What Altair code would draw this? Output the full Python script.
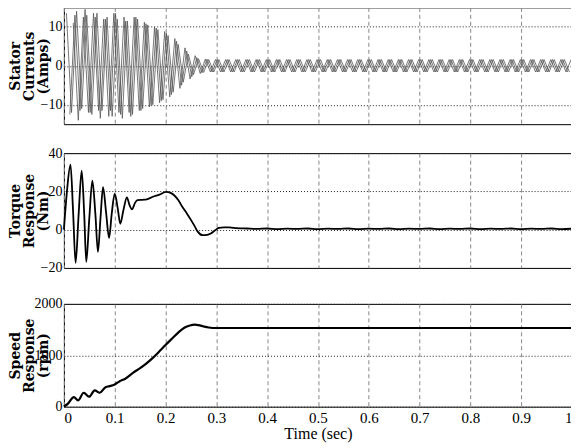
import altair as alt
import pandas as pd

# ---------------- data ----------------
time_ticks = [0, 0.1, 0.2, 0.3, 0.4, 0.5, 0.6, 0.7, 0.8, 0.9, 1]

# stator current extremes (one value per half cycle, 50 Hz), three phases
cur_t_a = [round(0.005 + 0.01 * k, 5) for k in range(100)]
cur_t_b = [round(t + 0.00667, 5) for t in cur_t_a]
cur_t_c = [round(t + 0.01333, 5) for t in cur_t_a]

cur_a = [13.5, -12.0, 14.0, -11.0, 13.0, -12.5, 13.5, -11.5, 12.5, -13.0,
         12.0, -13.5, 11.5, -12.5, 12.0, -11.0, 10.5, -10.0, 9.3, -8.7,
         7.8, -6.8, 5.5, -4.2, 3.0, -2.3, 1.8, -1.7, 1.6, -1.6,
         1.6, -1.6, 1.6, -1.6, 1.6, -1.6, 1.6, -1.6, 1.6, -1.6,
         1.6, -1.6, 1.6, -1.6, 1.6, -1.6, 1.6, -1.6, 1.6, -1.6,
         1.6, -1.6, 1.6, -1.6, 1.6, -1.6, 1.6, -1.6, 1.6, -1.6,
         1.6, -1.6, 1.6, -1.6, 1.6, -1.6, 1.6, -1.6, 1.6, -1.6,
         1.6, -1.6, 1.6, -1.6, 1.6, -1.6, 1.6, -1.6, 1.6, -1.6,
         1.6, -1.6, 1.6, -1.6, 1.6, -1.6, 1.6, -1.6, 1.6, -1.6,
         1.6, -1.6, 1.6, -1.6, 1.6, -1.6, 1.6, -1.6, 1.6, -1.6]
cur_b = [-12.5, 13.0, -11.5, 14.5, -12.0, 12.5, -13.5, 12.0, -11.5, 13.5,
         -12.5, 11.5, -13.0, 12.5, -11.5, 10.8, -10.2, 9.7, -9.0, 8.4,
         -7.4, 6.3, -5.0, 3.8, -2.8, 2.1, -1.8, 1.7, -1.6, 1.6,
         -1.6, 1.6, -1.6, 1.6, -1.6, 1.6, -1.6, 1.6, -1.6, 1.6,
         -1.6, 1.6, -1.6, 1.6, -1.6, 1.6, -1.6, 1.6, -1.6, 1.6,
         -1.6, 1.6, -1.6, 1.6, -1.6, 1.6, -1.6, 1.6, -1.6, 1.6,
         -1.6, 1.6, -1.6, 1.6, -1.6, 1.6, -1.6, 1.6, -1.6, 1.6,
         -1.6, 1.6, -1.6, 1.6, -1.6, 1.6, -1.6, 1.6, -1.6, 1.6,
         -1.6, 1.6, -1.6, 1.6, -1.6, 1.6, -1.6, 1.6, -1.6, 1.6,
         -1.6, 1.6, -1.6, 1.6, -1.6, 1.6, -1.6, 1.6, -1.6, 1.6]
cur_c = [11.0, -14.0, 12.5, -12.0, 13.5, -11.5, 12.0, -13.0, 13.5, -12.0,
         12.5, -12.0, 12.5, -11.5, 11.2, -10.6, 10.0, -9.5, 8.8, -8.0,
         7.0, -5.8, 4.6, -3.4, 2.6, -2.0, 1.7, -1.6, 1.6, -1.6,
         1.6, -1.6, 1.6, -1.6, 1.6, -1.6, 1.6, -1.6, 1.6, -1.6,
         1.6, -1.6, 1.6, -1.6, 1.6, -1.6, 1.6, -1.6, 1.6, -1.6,
         1.6, -1.6, 1.6, -1.6, 1.6, -1.6, 1.6, -1.6, 1.6, -1.6,
         1.6, -1.6, 1.6, -1.6, 1.6, -1.6, 1.6, -1.6, 1.6, -1.6,
         1.6, -1.6, 1.6, -1.6, 1.6, -1.6, 1.6, -1.6, 1.6, -1.6,
         1.6, -1.6, 1.6, -1.6, 1.6, -1.6, 1.6, -1.6, 1.6, -1.6,
         1.6, -1.6, 1.6, -1.6, 1.6, -1.6, 1.6, -1.6, 1.6, -1.6]

# electromagnetic torque (Nm)
torque_t = [0, 0.006, 0.013, 0.018, 0.023, 0.029, 0.035, 0.040, 0.044, 0.050,
            0.056, 0.062, 0.067, 0.072, 0.077, 0.083, 0.089, 0.094, 0.100, 0.106,
            0.111, 0.117, 0.124, 0.129, 0.134, 0.140, 0.145, 0.155, 0.163, 0.175,
            0.188, 0.201, 0.210, 0.217, 0.225, 0.233, 0.242, 0.250, 0.257, 0.263,
            0.273, 0.282, 0.289, 0.297, 0.305, 0.315, 0.325, 0.340, 0.360, 0.380,
            0.400, 0.420, 0.440, 0.460, 0.480, 0.500, 0.520, 0.540, 0.560, 0.580,
            0.600, 0.620, 0.640, 0.660, 0.680, 0.700, 0.720, 0.740, 0.760, 0.780,
            0.800, 0.820, 0.840, 0.860, 0.880, 0.900, 0.920, 0.940, 0.960, 0.980,
            1.000]
torque_v = [0, 20, 34, 10, -17.4, 8, 30.8, 8, -16.8, 6,
            25.6, 8, -11.6, 6, 22.2, 9, -4.3, 8, 18.8, 11,
            3.1, 10, 16.8, 13, 10.6, 14, 15.4, 15.6, 15.8, 17.2,
            18.3, 19.7, 19.2, 18.0, 15.5, 12.0, 8.5, 5.1, 2.0, -0.9,
            -2.9, -2.7, -2.0, -0.5, 0.9, 1.2, 1.2, 0.8, 0.6, 0.4,
            0.6, 0.3, 0.5, 0.4, 0.6, 0.3, 0.5, 0.4, 0.6, 0.3,
            0.5, 0.4, 0.6, 0.3, 0.5, 0.4, 0.6, 0.3, 0.5, 0.4,
            0.6, 0.3, 0.5, 0.4, 0.6, 0.3, 0.5, 0.4, 0.6, 0.3,
            0.5]

# rotor speed (rpm)
speed_t = [0, 0.008, 0.0196, 0.028, 0.039, 0.0496, 0.0607, 0.0705, 0.082, 0.090,
           0.100, 0.110, 0.120, 0.136, 0.150, 0.162, 0.175, 0.188, 0.200, 0.214,
           0.225, 0.237, 0.248, 0.258, 0.265, 0.275, 0.285, 0.300, 0.350, 0.500,
           0.750, 1.000]
speed_v = [0, 60, 186, 122, 271, 194, 316, 271, 380, 399,
           432, 496, 540, 658, 750, 838, 950, 1077, 1200, 1335,
           1440, 1535, 1580, 1595, 1585, 1560, 1540, 1530, 1530, 1530,
           1530, 1530]

# ---------------- tables ----------------
cur_df = pd.concat([
    pd.DataFrame({"t": cur_t_a, "v": cur_a, "ph": "a"}),
    pd.DataFrame({"t": cur_t_b, "v": cur_b, "ph": "b"}),
    pd.DataFrame({"t": cur_t_c, "v": cur_c, "ph": "c"}),
])
cur_df = cur_df[cur_df["t"] <= 1.0]
torque_df = pd.DataFrame({"t": torque_t, "v": torque_v})
speed_df = pd.DataFrame({"t": speed_t, "v": speed_v})

W = 509
LABEL_FONT = "Liberation Serif"
TITLE_FONT = "DejaVu Serif"


def x_enc(show):
    if show:
        axis = alt.Axis(values=time_ticks, format=".1~f", title="Time (sec)",
                        grid=True, gridDash=[4, 3], gridColor="#888",
                        labelFont=LABEL_FONT, labelFontSize=15, labelColor="black",
                        labelPadding=4, titleFont=LABEL_FONT, titleFontSize=16,
                        titleFontWeight="normal", titleColor="black", titlePadding=0,
                        ticks=False, domain=False)
    else:
        axis = alt.Axis(values=time_ticks, labels=False, title=None,
                        grid=True, gridDash=[4, 3], gridColor="#888",
                        ticks=False, domain=False)
    return alt.X("t:Q", scale=alt.Scale(domain=[0, 1], nice=False), axis=axis)


def y_enc(domain, ticks, title, height):
    return alt.Y("v:Q", scale=alt.Scale(domain=domain, nice=False, zero=False),
                 axis=alt.Axis(values=ticks, format="d", title=title,
                               grid=True, gridDash=[1, 2], gridColor="#222",
                               labelFont=LABEL_FONT, labelFontSize=14,
                               labelColor="black", labelPadding=2,
                               ticks=False, domain=False,
                               titleFont=TITLE_FONT, titleFontSize=14,
                               titleFontWeight="bold", titleColor="black",
                               titleAngle=270, titleAlign="center",
                               titleBaseline="top", titleX=-55,
                               titleY=height / 2, titleLineHeight=14))


p1 = alt.Chart(cur_df).mark_line(color="#555", strokeWidth=0.8).encode(
    x=x_enc(False),
    y=y_enc([-15, 15], [-10, 0, 10], ["Stator", "Currents", "(Amps)"], 117),
    detail="ph:N",
).properties(width=W, height=117)

p2 = alt.Chart(torque_df).mark_line(color="black", strokeWidth=1.8,
                                     interpolate="monotone").encode(
    x=x_enc(False),
    y=y_enc([-20, 40], [-20, 0, 20, 40], ["Torque", "Response", "(Nm)"], 115),
).properties(width=W, height=115)

p3 = alt.Chart(speed_df).mark_line(color="black", strokeWidth=2.2,
                                    interpolate="monotone").encode(
    x=x_enc(True),
    y=y_enc([0, 2000], [0, 1000, 2000], ["Speed", "Response", "(rpm)"], 103),
).properties(width=W, height=103)

chart = alt.vconcat(p1, p2, p3, spacing=20).properties(
    padding={"left": 0, "top": -2, "right": -6, "bottom": 0},
    background="white",
).configure_view(stroke="black", strokeWidth=1)

chart.save("out.html", embed_options={"renderer": "svg", "actions": False})
